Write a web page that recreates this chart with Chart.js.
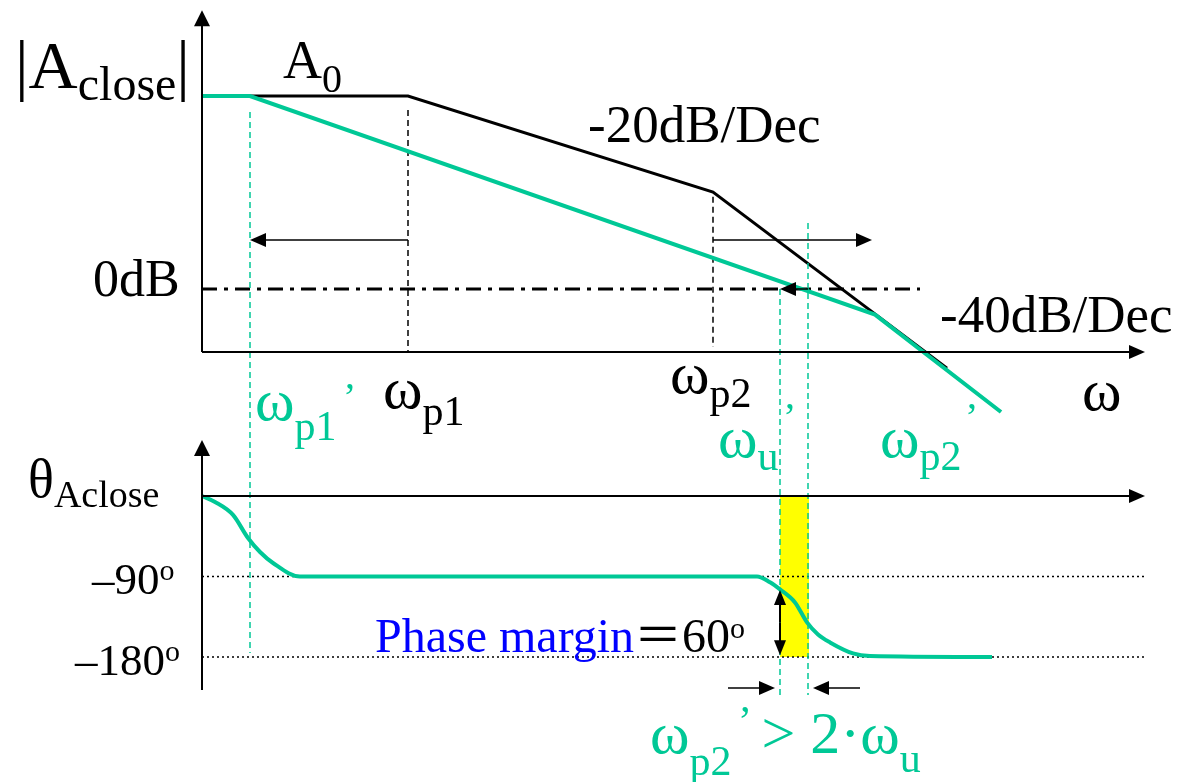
<!DOCTYPE html>
<html>
<head>
<meta charset="utf-8">
<script src="https://cdn.jsdelivr.net/npm/chart.js@4.4.0/dist/chart.umd.min.js"></script>
<style>
  html, body { margin: 0; padding: 0; background: #fff; }
  #wrap { position: relative; width: 1180px; height: 782px; overflow: hidden; }
  #bode { position: absolute; left: 0; top: 0; }
  .lbl { position: absolute; white-space: nowrap; line-height: 1;
         font-family: "Liberation Serif", "Times New Roman", serif; color: #000; }
  .s { position: relative; }
</style>
</head>
<body>
<div id="wrap"><canvas id="bode" width="1180" height="782"></canvas></div>
<script>
const GREEN = "#00c896";

// x = log(w) in decades measured from the vertical axis
// open loop magnitude, dB
const openX = [0, 2.06, 5.11, 7.45];
const openDb = [40, 40, 20.1, -16.4];
// closed loop magnitude, dB
const closeX = [0, 0.48, 6.73, 7.99];
const closeDb = [40, 40, -5.3, -25.5];

// closed loop phase, degrees
const phaseX = [0, 0.13, 0.31, 0.46, 0.58, 0.71, 0.98, 5.55, 5.68, 5.78, 5.93, 6.05, 6.16, 6.28, 6.51, 6.68, 7.9];
const phaseDeg = [0, -6.7, -21.2, -47, -62.6, -74.9, -90, -90, -96.5, -104.4, -119, -141.3, -154.8, -163.7, -176, -178.9, -180];

// wp1, wp2 (black dashed)
const poleX = [2.06, 5.11];
const poleTopDb = [37.1, 19.1];
const poleBottomDb = [-13.06, -12.0];
// wp1', wu, wp2' (green dashed, run down into the phase plot)
const guideX = [0.48, 5.78, 6.06];
const guideTopDb = [36.7, 0, 13.7];
const guideBottomDeg = [-175.5, -222.5, -222.5];

const zeroDbEndX = 7.18;
const phaseRefDeg = [-90, -180];
const axisEndX = 9.43;
const magAxisDb = [-13.06, 57.8];
const phaseAxisDeg = [-216.9, 62.6];
const marginX = [5.78, 6.07];

// arrows [x1, y1, x2, y2], head at the second point
const magArrows = [[2.06, 10.16, 0.48, 10.16], [5.11, 10.16, 6.70, 10.16], [6.06, 0, 5.78, 0]];
const phaseArrows = [[5.26, -214.7, 5.73, -214.7], [6.58, -214.7, 6.11, -214.7]];
const marginArrow = [5.78, -105, 5.78, -178];

function pts(xs, ys) {
  return xs.map((v, i) => ({ x: v, y: ys[i] }));
}

function seg(data, axis, color, width, dash) {
  return {
    data: data,
    yAxisID: axis,
    borderColor: color,
    borderWidth: width,
    borderDash: dash || [],
    pointRadius: 0,
    fill: false,
    tension: 0,
  };
}

function arrow(ctx, x1, y1, x2, y2, len, half, width) {
  const a = Math.atan2(y2 - y1, x2 - x1);
  const c = Math.cos(a), s = Math.sin(a);
  ctx.lineWidth = width;
  ctx.beginPath();
  ctx.moveTo(x1, y1);
  ctx.lineTo(x2 - c * len * 0.7, y2 - s * len * 0.7);
  ctx.stroke();
  ctx.beginPath();
  ctx.moveTo(x2, y2);
  ctx.lineTo(x2 - c * len + s * half, y2 - s * len - c * half);
  ctx.lineTo(x2 - c * len - s * half, y2 - s * len + c * half);
  ctx.closePath();
  ctx.fill();
}

const sketchPlugin = {
  id: "sketch",
  afterDatasetsDraw: (chart) => {
    const { ctx } = chart;
    const x = chart.scales.x, yMag = chart.scales.yMag, yPh = chart.scales.yPh;
    ctx.save();

    // green dashed guides
    ctx.strokeStyle = GREEN;
    ctx.lineWidth = 1.5;
    ctx.setLineDash([6, 4]);
    guideX.forEach((g, i) => {
      const px = x.getPixelForValue(g);
      ctx.beginPath();
      ctx.moveTo(px, yMag.getPixelForValue(guideTopDb[i]));
      ctx.lineTo(px, yPh.getPixelForValue(guideBottomDeg[i]));
      ctx.stroke();
    });
    ctx.setLineDash([]);

    // axes with arrow heads
    ctx.strokeStyle = "#000";
    ctx.fillStyle = "#000";
    const x0 = x.getPixelForValue(0), xe = x.getPixelForValue(axisEndX);
    arrow(ctx, x0, yMag.getPixelForValue(magAxisDb[0]), x0, yMag.getPixelForValue(magAxisDb[1]), 16, 8, 2);
    arrow(ctx, x0, yMag.getPixelForValue(magAxisDb[0]), xe, yMag.getPixelForValue(magAxisDb[0]), 16, 7, 2);
    arrow(ctx, x0, yPh.getPixelForValue(phaseAxisDeg[0]), x0, yPh.getPixelForValue(phaseAxisDeg[1]), 16, 8, 2);
    arrow(ctx, x0, yPh.getPixelForValue(0), xe, yPh.getPixelForValue(0), 16, 7, 2);

    magArrows.forEach((a) => {
      arrow(ctx, x.getPixelForValue(a[0]), yMag.getPixelForValue(a[1]),
        x.getPixelForValue(a[2]), yMag.getPixelForValue(a[3]), 16, 7, 1.5);
    });
    phaseArrows.forEach((a) => {
      arrow(ctx, x.getPixelForValue(a[0]), yPh.getPixelForValue(a[1]),
        x.getPixelForValue(a[2]), yPh.getPixelForValue(a[3]), 16, 7, 1.5);
    });
    // double headed phase margin arrow
    const mx = x.getPixelForValue(marginArrow[0]);
    const m1 = yPh.getPixelForValue(marginArrow[1]), m2 = yPh.getPixelForValue(marginArrow[3]);
    const mid = (m1 + m2) / 2;
    arrow(ctx, mx, mid, mx, m1, 15, 6, 2);
    arrow(ctx, mx, mid, mx, m2, 15, 6, 2);

    ctx.restore();
  },
};

new Chart(document.getElementById("bode"), {
  type: "line",
  data: {
    datasets: [
      Object.assign(seg(pts(phaseX, phaseDeg), "yPh", GREEN, 4), { cubicInterpolationMode: "monotone" }),
      seg(pts(closeX, closeDb), "yMag", GREEN, 4),
      seg(pts(openX, openDb), "yMag", "#000", 3),
      seg(pts([poleX[0], poleX[0]], [poleTopDb[0], poleBottomDb[0]]), "yMag", "#000", 1.5, [6, 4]),
      seg(pts([poleX[1], poleX[1]], [poleTopDb[1], poleBottomDb[1]]), "yMag", "#000", 1.5, [6, 4]),
      seg(pts([0, zeroDbEndX], [0, 0]), "yMag", "#000", 3, [15, 7, 4, 7]),
      seg(pts([0, axisEndX], [phaseRefDeg[0], phaseRefDeg[0]]), "yPh", "#000", 1.5, [2, 3]),
      seg(pts([0, axisEndX], [phaseRefDeg[1], phaseRefDeg[1]]), "yPh", "#000", 1.5, [2, 3]),
      Object.assign(seg(pts(marginX, [0, 0]), "yPh", "rgba(0,0,0,0)", 0), {
        fill: { value: phaseRefDeg[1] },
        backgroundColor: "#ffff00",
      }),
    ],
  },
  options: {
    responsive: false,
    animation: false,
    devicePixelRatio: 1,
    layout: { padding: 0 },
    plugins: { legend: { display: false }, tooltip: { enabled: false } },
    scales: {
      x: { type: "linear", min: -2.02, max: 9.78, display: false },
      yMag: { type: "linear", min: -102.18, max: 59.9, display: false },
      yPh: { type: "linear", min: -319.8, max: 554.56, display: false },
    },
  },
  plugins: [sketchPlugin],
});

// text labels: [html, left, baseline, font size, colour]
function sub(t, size, drop) {
  return '<span class="s" style="font-size:' + size + 'px;top:' + drop + 'px">' + t + "</span>";
}
const labels = [
  ["|A" + sub("close", 48, 12) + "|", 15, 88, 68, "#000"],
  ["A" + sub("0", 40, 14), 283, 78, 54, "#000"],
  ["-20dB/Dec", 588, 142, 53, "#000"],
  ["0dB", 93, 297, 52, "#000"],
  ["-40dB/Dec", 940, 332, 53, "#000"],
  ["ω" + sub("p1", 42, 20), 255, 420, 60, GREEN],
  ["’", 343, 410, 40, GREEN],
  ["ω" + sub("p1", 42, 17), 383, 408, 60, "#000"],
  ["ω" + sub("p2", 42, 14), 670, 393, 60, "#000"],
  ["ω", 1082, 410, 60, "#000"],
  ["ω" + sub("u", 42, 13), 718, 457, 60, GREEN],
  ["’", 783, 430, 40, GREEN],
  ["ω" + sub("p2", 42, 13), 880, 457, 60, GREEN],
  ["’", 965, 430, 40, GREEN],
  ["θ" + sub("Aclose", 38, 10), 28, 497, 54, "#000"],
  ["–90" + sub("o", 30, -14), 92, 595, 45, "#000"],
  ["–180" + sub("o", 30, -14), 75, 676, 45, "#000"],
  ['<span style="color:#0000ff">Phase margin</span><span style="font-family:\'Noto Sans CJK SC\'">＝</span>60' + sub("o", 30, -14), 375, 647, 48, "#000"],
  ["ω" + sub("p2", 42, 22) + "&nbsp; &gt; 2·ω" + sub("u", 42, 19), 650, 753, 60, GREEN],
  ["’", 738, 735, 42, GREEN],
];
const wrap = document.getElementById("wrap");
labels.forEach((l) => {
  const d = document.createElement("div");
  d.className = "lbl";
  d.innerHTML = l[0];
  d.style.left = l[1] + "px";
  d.style.top = (l[2] - 0.8375 * l[3]) + "px";
  d.style.fontSize = l[3] + "px";
  d.style.color = l[4];
  wrap.appendChild(d);
});
</script>
</body>
</html>
